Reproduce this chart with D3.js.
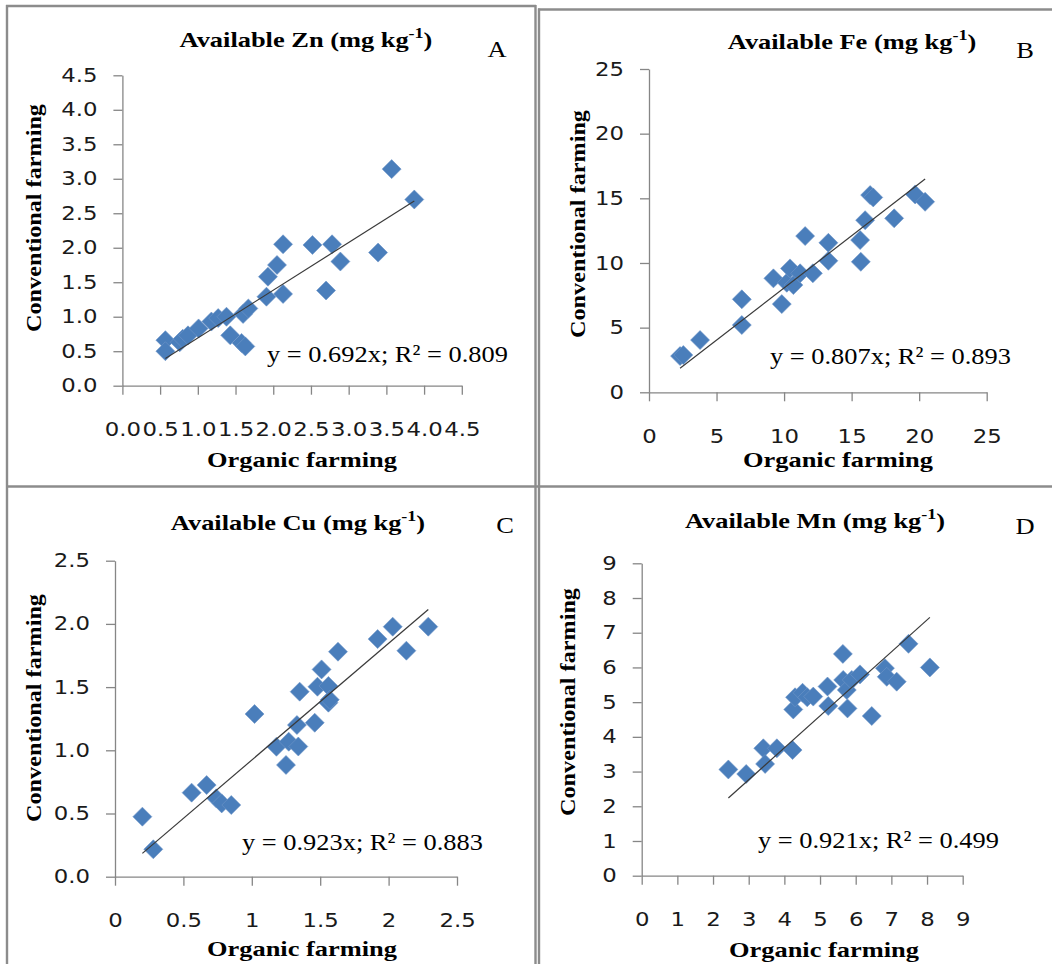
<!doctype html>
<html lang="en">
<head>
  <meta charset="utf-8">
  <title>Available micronutrients: organic vs conventional farming</title>
  <script src="https://d3js.org/d3.v7.min.js"></script>
  <style>
    body { margin: 0; background: #fff; }
    svg { display: block; }
    .tick-label { font-family: "DejaVu Sans", sans-serif; font-size: 19px; fill: #1a1a1a; }
    .title { font-family: "Liberation Serif", "Times New Roman", serif; font-weight: bold; font-size: 22px; fill: #000; }
    .axis-title { font-family: "Liberation Serif", "Times New Roman", serif; font-weight: bold; font-size: 22px; fill: #000; }
    .letter { font-family: "Liberation Serif", "Times New Roman", serif; font-size: 23px; fill: #000; }
    .eq { font-family: "Liberation Serif", "Times New Roman", serif; font-size: 24px; fill: #000; }
  </style>
</head>
<body>
<div id="chart"></div>
<script>
// values (organic = x, conventional = y)
var znOrganic      = [0.57, 0.57, 0.76, 0.80, 0.87, 1.01, 1.18, 1.27, 1.38, 1.43, 1.58, 1.63, 1.60, 1.67, 1.91, 1.93, 2.05, 2.13, 2.13, 2.52, 2.70, 2.78, 2.89, 3.39, 3.57, 3.87];
var znConventional = [0.66, 0.50, 0.63, 0.68, 0.73, 0.83, 0.93, 0.98, 1.00, 0.73, 0.62, 0.57, 1.04, 1.12, 1.29, 1.58, 1.75, 2.05, 1.33, 2.04, 1.38, 2.05, 1.80, 1.93, 3.14, 2.70];

var feOrganic      = [2.30, 2.54, 3.78, 6.87, 6.87, 9.21, 9.83, 10.20, 10.44, 10.69, 11.19, 12.13, 11.56, 13.28, 13.28, 15.63, 15.68, 16.00, 16.37, 16.60, 18.15, 19.70, 20.44];
var feConventional = [2.80, 2.88, 4.04, 7.19, 5.20, 8.81, 6.82, 8.47, 9.58, 8.29, 9.20, 9.20, 12.08, 11.56, 10.17, 11.77, 10.09, 13.31, 15.25, 15.07, 13.45, 15.30, 14.73];

var cuOrganic      = [0.20, 0.28, 0.56, 0.67, 0.74, 0.78, 0.85, 1.02, 1.18, 1.25, 1.27, 1.33, 1.34, 1.35, 1.46, 1.48, 1.51, 1.56, 1.56, 1.57, 1.63, 1.92, 2.03, 2.13, 2.29];
var cuConventional = [0.475, 0.217, 0.665, 0.725, 0.62, 0.58, 0.567, 1.287, 1.028, 0.884, 1.068, 1.20, 1.03, 1.464, 1.218, 1.503, 1.64, 1.509, 1.377, 1.40, 1.78, 1.88, 1.978, 1.788, 1.978];

var mnOrganic      = [2.43, 2.93, 3.41, 3.46, 3.79, 4.23, 4.25, 4.30, 4.51, 4.64, 4.81, 5.21, 5.23, 5.64, 5.65, 5.75, 5.77, 5.89, 6.12, 6.45, 6.82, 6.87, 7.15, 7.48, 8.08];
var mnConventional = [3.06, 2.93, 3.67, 3.22, 3.67, 3.62, 4.79, 5.14, 5.27, 5.14, 5.16, 5.45, 4.89, 6.39, 5.64, 5.35, 4.82, 5.64, 5.80, 4.60, 5.98, 5.73, 5.59, 6.68, 6.00];

var elements = ["Zn", "Fe", "Cu", "Mn"];
var letters  = ["A", "B", "C", "D"];
var slopes   = [0.692, 0.807, 0.923, 0.921];
var rSquared = [0.809, 0.893, 0.883, 0.499];

var znTicks = [0, 0.5, 1, 1.5, 2, 2.5, 3, 3.5, 4, 4.5];
var feTicks = [0, 5, 10, 15, 20, 25];
var cuTicks = [0, 0.5, 1, 1.5, 2, 2.5];
var mnTicks = [0, 1, 2, 3, 4, 5, 6, 7, 8, 9];

// where each panel sits on the page
var panels = [
  { x: znOrganic, y: znConventional, ticks: znTicks, xFmt: d3.format(".1f"), yFmt: d3.format(".1f"),
    px: [122.4, 461.8], py: [385.7, 75.3], title: [306, 47], letter: [497, 57], yt: [41, 218], xt: [302, 467], eq: [267, 362] },
  { x: feOrganic, y: feConventional, ticks: feTicks, xFmt: d3.format("d"), yFmt: d3.format("d"),
    px: [649, 986.7], py: [392.3, 69], title: [852, 49], letter: [1025, 58], yt: [585, 224], xt: [838, 467], eq: [770, 364] },
  { x: cuOrganic, y: cuConventional, ticks: cuTicks, xFmt: function(d) { return String(d); }, yFmt: d3.format(".1f"),
    px: [115, 457], py: [876.7, 560.7], title: [298, 530], letter: [505, 533], yt: [41, 708], xt: [302, 956], eq: [242, 850] },
  { x: mnOrganic, y: mnConventional, ticks: mnTicks, xFmt: d3.format("d"), yFmt: d3.format("d"),
    px: [641.7, 962.7], py: [875.7, 563.3], title: [815, 528], letter: [1025, 534], yt: [575, 702], xt: [824, 957], eq: [758, 848] }
];

var width = 1052, height = 964;
var stretch = 1.2;   // source figure is a little wider than its fonts

var svg = d3.select("#chart").append("svg")
  .attr("width", width)
  .attr("height", height);

function widen(sel, k) {
  sel.each(function() {
    var len = this.getComputedTextLength();
    d3.select(this).attr("textLength", len * k).attr("lengthAdjust", "spacingAndGlyphs");
  });
}

// frame lines
var frame = svg.append("g").attr("stroke", "#8c8c8c").attr("stroke-width", 2.4).attr("fill", "none");
frame.append("line").attr("x1", 6).attr("y1", 6).attr("x2", 536).attr("y2", 6);
frame.append("line").attr("x1", 7).attr("y1", 5).attr("x2", 7).attr("y2", height);
frame.append("line").attr("x1", 535.5).attr("y1", 5).attr("x2", 535.5).attr("y2", height);
frame.append("line").attr("x1", 539).attr("y1", 8.5).attr("x2", 539).attr("y2", height);
frame.append("line").attr("x1", 538).attr("y1", 9.5).attr("x2", width).attr("y2", 9.5);
frame.append("line").attr("x1", 6).attr("y1", 486.5).attr("x2", width).attr("y2", 486.5);

var diamond = function(r) { return "M0," + (-r) + "L" + r + ",0L0," + r + "L" + (-r) + ",0Z"; };

panels.forEach(function(p, i) {
  var dom = d3.extent(p.ticks);
  var x = d3.scaleLinear().domain(dom).range(p.px);
  var y = d3.scaleLinear().domain(dom).range(p.py);
  var g = svg.append("g");

  var xAxis = g.append("g")
    .attr("transform", "translate(0," + p.py[0] + ")")
    .call(d3.axisBottom(x).tickValues(p.ticks).tickFormat(p.xFmt).tickSize(9).tickSizeOuter(0).tickPadding(28));
  var yAxis = g.append("g")
    .attr("transform", "translate(" + p.px[0] + ",0)")
    .call(d3.axisLeft(y).tickValues(p.ticks).tickFormat(p.yFmt).tickSize(9).tickSizeOuter(0).tickPadding(16));

  [xAxis, yAxis].forEach(function(a) {
    a.select(".domain").attr("stroke", "#868686").attr("stroke-width", 1.3);
    a.selectAll(".tick line").attr("stroke", "#868686").attr("stroke-width", 1.3);
    a.selectAll(".tick text").attr("class", "tick-label").attr("font-family", null).attr("font-size", null).attr("fill", null);
    widen(a.selectAll(".tick text"), stretch);
  });

  // points
  var pts = p.x.map(function(d, j) { return [d, p.y[j]]; });
  g.append("g").selectAll("path")
    .data(pts)
    .enter().append("path")
    .attr("d", diamond(9.5))
    .attr("transform", function(d) { return "translate(" + x(d[0]) + "," + y(d[1]) + ")"; })
    .attr("fill", "#4a7ebb")
    .attr("stroke", "#6e96c8")
    .attr("stroke-width", 0.6);

  // trend line through origin, drawn over the data range
  var ext = d3.extent(p.x);
  g.append("line")
    .attr("x1", x(ext[0])).attr("y1", y(slopes[i] * ext[0]))
    .attr("x2", x(ext[1])).attr("y2", y(slopes[i] * ext[1]))
    .attr("stroke", "#3a3a3a")
    .attr("stroke-width", 1.2);

  // title with superscript
  var t = g.append("text").attr("class", "title")
    .attr("x", p.title[0]).attr("y", p.title[1]).attr("text-anchor", "middle");
  t.append("tspan").text("Available " + elements[i] + " (mg kg");
  t.append("tspan").attr("font-size", 15).attr("dy", -9).text("-1");
  t.append("tspan").attr("dy", 9).text(")");
  widen(t, 1.2);

  var l = g.append("text").attr("class", "letter")
    .attr("x", p.letter[0]).attr("y", p.letter[1]).attr("text-anchor", "middle").text(letters[i]);
  widen(l, 1.15);

  var yt = g.append("text").attr("class", "axis-title")
    .attr("transform", "translate(" + p.yt[0] + "," + p.yt[1] + ") rotate(-90)")
    .attr("text-anchor", "middle").text("Conventional farming");
  widen(yt, 1.1);

  var xt = g.append("text").attr("class", "axis-title")
    .attr("x", p.xt[0]).attr("y", p.xt[1]).attr("text-anchor", "middle").text("Organic farming");
  widen(xt, 1.2);

  var eq = g.append("text").attr("class", "eq")
    .attr("x", p.eq[0]).attr("y", p.eq[1])
    .text("y = " + slopes[i].toFixed(3) + "x; R\u00b2 = " + rSquared[i].toFixed(3));
  widen(eq, 1.1);
});
</script>
</body>
</html>
